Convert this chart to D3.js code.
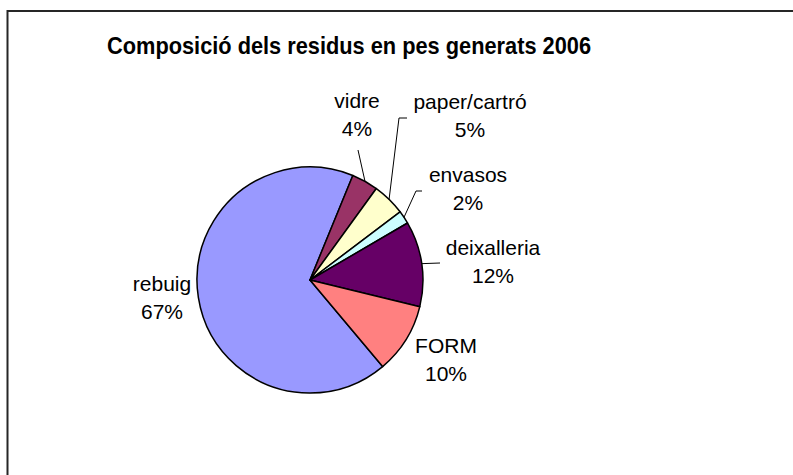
<!DOCTYPE html>
<html>
<head>
<meta charset="utf-8">
<script src="https://cdn.jsdelivr.net/npm/d3@7"></script>
<style>
  body { margin: 0; background: #fff; }
  svg { display: block; font-family: "Liberation Sans", Arial, sans-serif; }
</style>
</head>
<body>
<div id="chart"></div>
<script>
// data
var categories = ["rebuig", "vidre", "paper/cartró", "envasos", "deixalleria", "FORM"];
var values = [67.3, 3.8, 4.7, 1.9, 12.2, 10.1];
var colors = ["#9999FF", "#993366", "#FFFFCC", "#CCFFFF", "#660066", "#FF8080"];
var title = "Composició dels residus en pes generats 2006";

// label placement: [x, baseline y of first line], leader = [points from label to pie] or null
var labelPos = [
  { x: 162, y: 291, leader: null },
  { x: 357, y: 108, leader: [[358, 150]] },
  { x: 470, y: 109, leader: [[407, 118], [399, 118]] },
  { x: 468, y: 182, leader: [[422, 191], [416, 191]] },
  { x: 493, y: 255, leader: [[440, 263]] },
  { x: 446, y: 353, leader: null }
];

var width = 793, height = 475;
var cx = 310, cy = 280, radius = 113;

var svg = d3.select("#chart").append("svg")
    .attr("width", width)
    .attr("height", height);

svg.append("rect")
    .attr("width", width)
    .attr("height", height)
    .attr("fill", "#fff");

// chart border (runs past the right and bottom edges)
svg.append("rect")
    .attr("x", 7.5)
    .attr("y", 11)
    .attr("width", 820)
    .attr("height", 500)
    .attr("fill", "none")
    .attr("stroke", "#262626")
    .attr("stroke-width", 2);

svg.append("text")
    .attr("x", 349)
    .attr("y", 54)
    .attr("text-anchor", "middle")
    .attr("font-size", 24)
    .attr("font-weight", "bold")
    .attr("textLength", 484)
    .attr("lengthAdjust", "spacingAndGlyphs")
    .text(title);

var data = categories.map(function(c, i) {
  return { name: c, value: values[i], color: colors[i] };
});

// first slice angle 140 degrees, clockwise
var start = 140 * Math.PI / 180;
var pie = d3.pie()
    .sort(null)
    .value(function(d) { return d.value; })
    .startAngle(start)
    .endAngle(start + 2 * Math.PI);

var arc = d3.arc().innerRadius(0).outerRadius(radius);
var edge = d3.arc().innerRadius(radius).outerRadius(radius);

var arcs = pie(data);

var g = svg.append("g")
    .attr("transform", "translate(" + cx + "," + cy + ")");

g.selectAll("path")
    .data(arcs)
    .enter()
    .append("path")
    .attr("d", arc)
    .attr("fill", function(d) { return d.data.color; })
    .attr("stroke", "#000")
    .attr("stroke-width", 1.5)
    .attr("stroke-linejoin", "round");

var total = d3.sum(values);

// leader lines
var lineGen = d3.line();
arcs.forEach(function(a, i) {
  var lp = labelPos[i];
  if (!lp.leader) return;
  var c = edge.centroid(a);
  var pts = lp.leader.slice();
  pts.push([cx + c[0], cy + c[1]]);
  svg.append("path")
    .attr("d", lineGen(pts))
    .attr("fill", "none")
    .attr("stroke", "#000")
    .attr("stroke-width", 1);
});

// labels
var labels = svg.append("g")
    .attr("font-size", 21)
    .attr("fill", "#000")
    .attr("text-anchor", "middle");

arcs.forEach(function(a, i) {
  var lp = labelPos[i];
  var t = labels.append("text").attr("x", lp.x).attr("y", lp.y);
  t.append("tspan").attr("x", lp.x).text(a.data.name);
  t.append("tspan").attr("x", lp.x).attr("dy", 28)
    .text(Math.round(a.data.value / total * 100) + "%");
});
</script>
</body>
</html>
